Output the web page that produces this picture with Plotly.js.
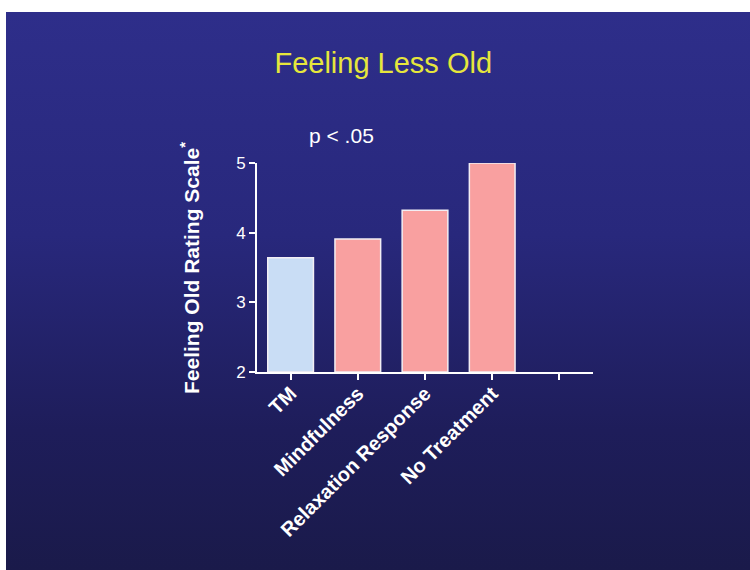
<!DOCTYPE html>
<html>
<head>
<meta charset="utf-8">
<script src="https://cdn.plot.ly/plotly-3.0.1.min.js"></script>
<style>
  html, body { margin: 0; padding: 0; background: #ffffff; }
  #wrap { position: relative; width: 750px; height: 570px; overflow: hidden; }
  #bg { position: absolute; left: 6px; top: 12px; width: 744px; height: 558px;
        background: linear-gradient(to bottom, #2e2e8a 0%, #28287c 40%, #1e1d5a 75%, #1a1a4a 100%); }
  #chart { position: absolute; left: 0; top: 0; width: 750px; height: 570px; }
</style>
</head>
<body>
<div id="wrap"><div id="bg"></div><div id="chart"></div></div>
<script>
const categories = ['TM', 'Mindfulness', 'Relaxation Response', 'No Treatment', ''];
const values = [3.64, 3.91, 4.32, 5.0];
const barColors = ['#c9ddf5', '#f9a0a0', '#f9a0a0', '#f9a0a0'];
const yTickVals = [2, 3, 4, 5];
const chartTitle = 'Feeling Less Old';
const yTitle = 'Feeling Old Rating Scale<sup>*</sup>';
const note = 'p < .05';

const fontFam = 'Arial, "Liberation Sans", sans-serif';
const baseVal = 2;

const trace = {
  type: 'bar',
  x: values.map((v, i) => i),
  y: values.map(v => v - baseVal),
  base: baseVal,
  width: 0.68,
  marker: { color: barColors, line: { color: '#f2eef4', width: 1.5 } },
  hoverinfo: 'skip'
};

const layout = {
  width: 750, height: 570,
  paper_bgcolor: 'rgba(0,0,0,0)',
  plot_bgcolor: 'rgba(0,0,0,0)',
  margin: { l: 257, r: 157, t: 163, b: 198 },
  showlegend: false,
  title: {
    text: chartTitle,
    x: 0.511, xref: 'container', xanchor: 'center',
    y: 1 - 63 / 570, yref: 'container', yanchor: 'middle',
    font: { family: fontFam, size: 29, color: '#e6e63c' }
  },
  xaxis: {
    range: [-0.5, 4.5],
    tickmode: 'array',
    tickvals: categories.map((c, i) => i),
    ticktext: categories,
    tickangle: -45,
    ticks: 'outside', ticklen: 6, tickwidth: 2, tickcolor: '#ffffff',
    ticklabelstandoff: -6,
    showline: true, linecolor: '#ffffff', linewidth: 2,
    showgrid: false, zeroline: false,
    tickfont: { family: fontFam, size: 20, color: '#ffffff', weight: 'bold' },
    fixedrange: true
  },
  yaxis: {
    range: [2, 5],
    tickmode: 'array',
    tickvals: yTickVals,
    ticktext: yTickVals.map(String),
    ticks: 'outside', ticklen: 6, tickwidth: 2, tickcolor: '#ffffff',
    showline: true, linecolor: '#ffffff', linewidth: 2,
    showgrid: false, zeroline: false,
    tickfont: { family: fontFam, size: 17, color: '#ffffff' },
    fixedrange: true
  },
  annotations: [
    {
      text: note, xref: 'paper', yref: 'paper',
      x: (341 - 257) / 336, y: (372 - 135) / 209,
      xanchor: 'center', yanchor: 'middle', showarrow: false,
      font: { family: fontFam, size: 21, color: '#ffffff' }
    },
    {
      text: yTitle, xref: 'paper', yref: 'paper',
      x: (190 - 257) / 336, y: (372 - 268) / 209,
      xanchor: 'center', yanchor: 'middle', showarrow: false, textangle: -90,
      font: { family: fontFam, size: 21, color: '#ffffff', weight: 'bold' }
    }
  ]
};

Plotly.newPlot('chart', [trace], layout, { displayModeBar: false, staticPlot: true });
</script>
</body>
</html>
